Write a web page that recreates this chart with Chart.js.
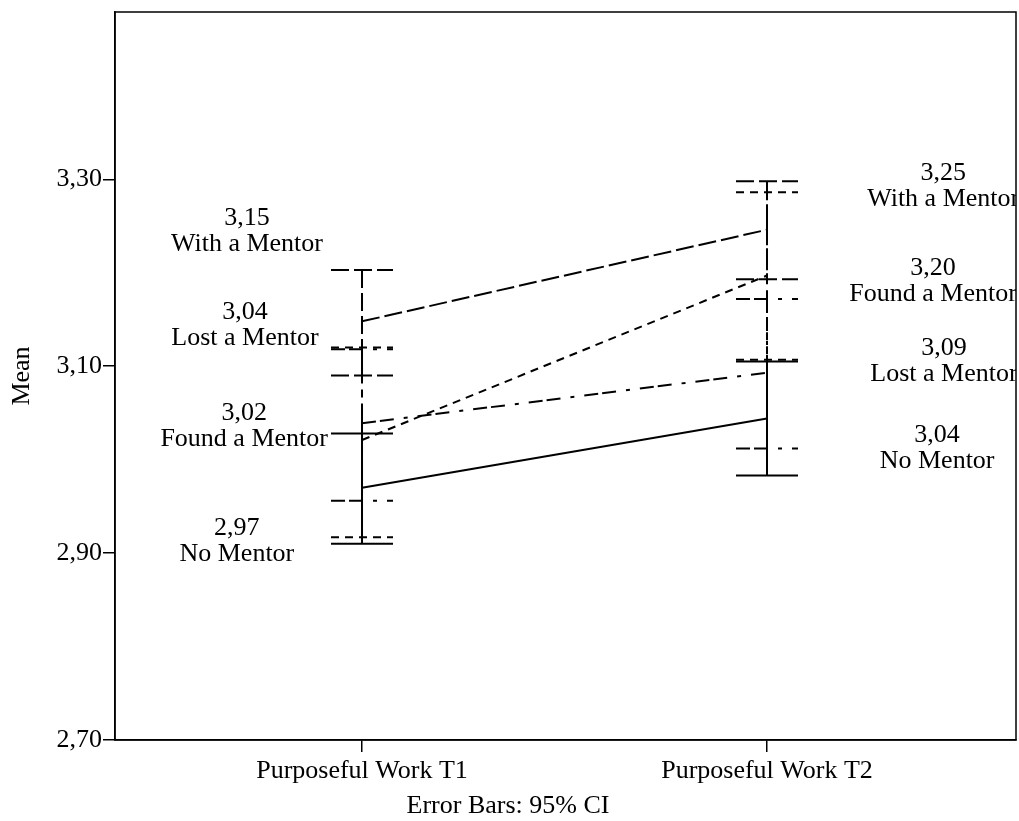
<!DOCTYPE html>
<html>
<head>
<meta charset="utf-8">
<script src="https://cdn.jsdelivr.net/npm/chart.js@4.4.1/dist/chart.umd.min.js"></script>
<style>
  html, body { margin: 0; padding: 0; background: #ffffff; }
  #wrap { width: 1019px; height: 821px; }
</style>
</head>
<body>
<div id="wrap"><canvas id="c" width="1019" height="821"></canvas></div>
<script>
// Categories and groups
const categories = ['Purposeful Work T1', 'Purposeful Work T2'];
const groups = ['With a Mentor', 'Found a Mentor', 'Lost a Mentor', 'No Mentor'];
const yTickValues = [2.70, 2.90, 3.10, 3.30];

// Group means at T1 and T2
const meanWith  = [3.148, 3.246];
const meanFound = [3.021, 3.197];
const meanLost  = [3.039, 3.093];
const meanNone  = [2.970, 3.044];

// 95% confidence limits at T1 and T2
const lowWith   = [3.090, 3.193];
const highWith  = [3.203, 3.298];
const lowFound  = [2.917, 3.107];
const highFound = [3.120, 3.286];
const lowLost   = [2.956, 3.012];
const highLost  = [3.118, 3.172];
const lowNone   = [2.910, 2.983];
const highNone  = [3.028, 3.105];

// Where each group's caption sits (x in category units, y in axis units)
const captionSpotWith  = [[0.716, 3.2449], [2.435, 3.2925]];
const captionSpotFound = [[0.709, 3.0353], [2.410, 3.1909]];
const captionSpotLost  = [[0.711, 3.1438], [2.437, 3.1053]];
const captionSpotNone  = [[0.691, 2.9123], [2.420, 3.0118]];

const FONT = 'Liberation Serif, Times New Roman, serif';
const FONT_SIZE = 26;

const series = [
  { name: groups[0], mean: meanWith,  low: lowWith,  high: highWith,  spots: captionSpotWith,  dash: [18, 5] },
  { name: groups[1], mean: meanFound, low: lowFound, high: highFound, spots: captionSpotFound, dash: [8, 6] },
  { name: groups[2], mean: meanLost,  low: lowLost,  high: highLost,  spots: captionSpotLost,  dash: [14, 4, 14, 10, 4, 10] },
  { name: groups[3], mean: meanNone,  low: lowNone,  high: highNone,  spots: captionSpotNone,  dash: [] }
];

const fmt = v => v.toFixed(2).replace('.', ',');

// White page behind the chart
const background = {
  id: 'background',
  beforeDraw(chart) {
    const ctx = chart.ctx;
    ctx.save();
    ctx.fillStyle = '#ffffff';
    ctx.fillRect(0, 0, chart.width, chart.height);
    ctx.restore();
  }
};

// Confidence interval whiskers with caps, in each group's line style
const errorBars = {
  id: 'errorBars',
  afterDatasetsDraw(chart) {
    const ctx = chart.ctx;
    const xs = chart.scales.x, ys = chart.scales.y;
    const capHalf = 31;
    ctx.save();
    ctx.strokeStyle = '#000';
    ctx.lineWidth = 2;
    ctx.lineCap = 'butt';
    series.forEach(s => {
      ctx.setLineDash(s.dash);
      s.mean.forEach((m, i) => {
        const px = xs.getPixelForValue(i + 1);
        const yl = ys.getPixelForValue(s.low[i]);
        const yh = ys.getPixelForValue(s.high[i]);
        ctx.beginPath();
        ctx.moveTo(px, yh); ctx.lineTo(px, yl);
        ctx.moveTo(px - capHalf, yh); ctx.lineTo(px + capHalf, yh);
        ctx.moveTo(px - capHalf, yl); ctx.lineTo(px + capHalf, yl);
        ctx.stroke();
      });
    });
    ctx.restore();
  }
};

// Value and group name beside each end of the lines, clipped to the plot frame
const captions = {
  id: 'captions',
  afterDatasetsDraw(chart) {
    const ctx = chart.ctx;
    const xs = chart.scales.x, ys = chart.scales.y;
    const a = chart.chartArea;
    ctx.save();
    ctx.beginPath();
    ctx.rect(a.left, a.top, a.right - a.left, a.bottom - a.top);
    ctx.clip();
    ctx.fillStyle = '#000';
    ctx.font = FONT_SIZE + 'px ' + FONT;
    ctx.textAlign = 'center';
    ctx.textBaseline = 'middle';
    series.forEach(s => {
      s.mean.forEach((m, i) => {
        const px = xs.getPixelForValue(s.spots[i][0]);
        const py = ys.getPixelForValue(s.spots[i][1]);
        ctx.fillText(fmt(m), px, py - 13);
        ctx.fillText(s.name, px, py + 13);
      });
    });
    ctx.restore();
  }
};

// Box round the plot area
const frame = {
  id: 'frame',
  afterDraw(chart) {
    const a = chart.chartArea;
    const ctx = chart.ctx;
    ctx.save();
    ctx.strokeStyle = '#000';
    ctx.lineWidth = 1.5;
    ctx.setLineDash([]);
    ctx.strokeRect(a.left, a.top, a.right - a.left, a.bottom - a.top);
    ctx.restore();
  }
};

const datasets = series.map(s => ({
  label: s.name,
  data: s.mean.map((m, i) => ({ x: i + 1, y: m })),
  borderColor: '#000',
  borderWidth: 2,
  borderDash: s.dash,
  borderCapStyle: 'butt',
  pointRadius: 0,
  fill: false,
  tension: 0
}));

new Chart(document.getElementById('c'), {
  type: 'line',
  data: { datasets },
  options: {
    responsive: false,
    animation: false,
    events: [],
    layout: { padding: { top: 12, right: 3, left: 0, bottom: 0 } },
    plugins: {
      legend: { display: false },
      tooltip: { enabled: false },
      title: {
        display: true,
        position: 'bottom',
        text: 'Error Bars: 95% CI',
        color: '#000',
        font: { family: FONT, size: FONT_SIZE, weight: 'normal', lineHeight: 1 },
        padding: { top: 0, bottom: 2 }
      }
    },
    scales: {
      x: {
        type: 'linear',
        min: 0.3901,
        max: 2.6148,
        afterBuildTicks: scale => { scale.ticks = categories.map((c, i) => ({ value: i + 1 })); },
        afterFit: scale => { scale.height = 53; scale.paddingLeft = 0; scale.paddingRight = 0; },
        grid: { display: true, drawOnChartArea: false, drawTicks: true, tickLength: 12, color: '#000', lineWidth: 1.5 },
        border: { display: true, color: '#000', width: 1.5 },
        ticks: {
          color: '#000',
          padding: 4,
          maxRotation: 0,
          autoSkip: false,
          font: { family: FONT, size: FONT_SIZE },
          callback: v => categories[Math.round(v) - 1]
        }
      },
      y: {
        type: 'linear',
        min: 2.70,
        max: 3.479,
        afterBuildTicks: scale => { scale.ticks = yTickValues.map(v => ({ value: v })); },
        afterFit: scale => { scale.width = 115; scale.paddingTop = 0; scale.paddingBottom = 0; },
        grid: { display: true, drawOnChartArea: false, drawTicks: true, tickLength: 12, color: '#000', lineWidth: 1.5 },
        border: { display: true, color: '#000', width: 1.5 },
        title: {
          display: true,
          text: 'Mean',
          color: '#000',
          font: { family: FONT, size: FONT_SIZE },
          padding: { top: 7, bottom: 0 }
        },
        ticks: {
          color: '#000',
          padding: 1,
          font: { family: FONT, size: FONT_SIZE },
          callback: v => fmt(v)
        }
      }
    }
  },
  plugins: [background, errorBars, captions, frame]
});
</script>
</body>
</html>
